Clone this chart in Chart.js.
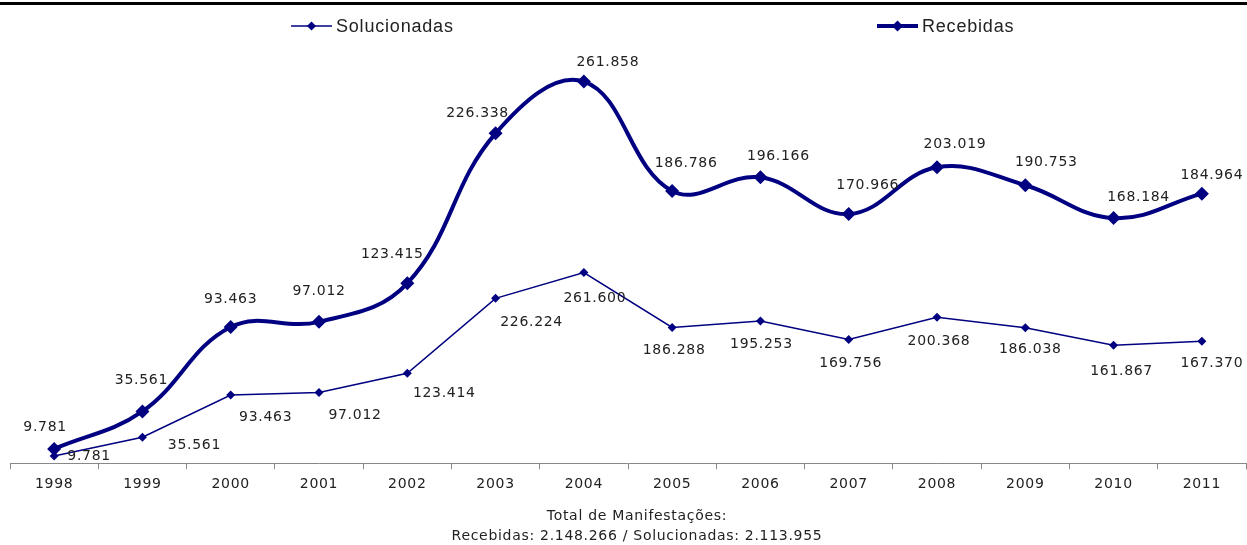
<!DOCTYPE html>
<html>
<head>
<meta charset="utf-8">
<script src="https://cdn.jsdelivr.net/npm/chart.js@4/dist/chart.umd.min.js"></script>
<style>
    html, body { margin: 0; padding: 0; background: #fff; overflow: hidden; }
    #wrap { position: relative; width: 1253px; height: 545px; }
</style>
</head>
<body>
<div id="wrap"><canvas id="chart"></canvas></div>
<script>
const years = ['1998', '1999', '2000', '2001', '2002', '2003', '2004', '2005', '2006', '2007', '2008', '2009', '2010', '2011']
const recebidas = [9781, 35561, 93463, 97012, 123415, 226338, 261858, 186786, 196166, 170966, 203019, 190753, 168184, 184964]
const solucionadas = [9781, 35561, 93463, 97012, 123414, 226224, 261600, 186288, 195253, 169756, 200368, 186038, 161867, 167370]
const footerLines = ['Total de Manifestações:', 'Recebidas: 2.148.266 / Solucionadas: 2.113.955']

// label placement relative to each point (dx, dy)
const recLabelShift = [[-9, -22], [-1, -31], [0, -28], [0, -30], [-15, -29], [-18, -20], [24, -19], [14, -28], [18, -21], [19, -29], [18, -23], [21, -23], [25, -21], [10, -18]]
const solLabelShift = [[35, 0], [52, 8], [35, 22], [36, 23], [37, 20], [36, 24], [11, 26], [2, 23], [1, 23], [2, 24], [2, 24], [5, 22], [8, 26], [10, 22]]

const NAVY = '#000080'
const TEXT = '#222222'
const LABEL_FONT = '14px "DejaVu Sans", Verdana, sans-serif'

const fmt = v => String(v).replace(/\B(?=(\d{3})+(?!\d))/g, '.')

function diamond(ctx, x, y, r) {
    ctx.beginPath()
    ctx.moveTo(x, y - r)
    ctx.lineTo(x + r, y)
    ctx.lineTo(x, y + r)
    ctx.lineTo(x - r, y)
    ctx.closePath()
    ctx.fill()
}

const decorPlugin = {
    id: 'decor',
    beforeDraw(chart) {
        chart.ctx.letterSpacing = '0.7px'
    },
    afterDraw(chart) {
        const { ctx, width } = chart
        ctx.save()

        // top rule
        ctx.fillStyle = '#000'
        ctx.fillRect(0, 2, width, 3)

        // legend
        const items = [
            { text: 'Solucionadas', x: 291, lw: 1.5, r: 4.5 },
            { text: 'Recebidas', x: 877, lw: 4, r: 5.5 },
        ]
        items.forEach(it => {
            ctx.strokeStyle = NAVY
            ctx.fillStyle = NAVY
            ctx.lineWidth = it.lw
            ctx.beginPath()
            ctx.moveTo(it.x, 26)
            ctx.lineTo(it.x + 41, 26)
            ctx.stroke()
            diamond(ctx, it.x + 20.5, 26, it.r)
            ctx.fillStyle = TEXT
            ctx.letterSpacing = '0.8px'
            ctx.font = '18px "Liberation Sans", Arial, sans-serif'
            ctx.textAlign = 'left'
            ctx.textBaseline = 'middle'
            ctx.fillText(it.text, it.x + 45, 27)
        })

        // data labels
        ctx.letterSpacing = '0.7px'
        ctx.font = LABEL_FONT
        ctx.fillStyle = TEXT
        ctx.textAlign = 'center'
        ctx.textBaseline = 'middle'
        const drawLabels = (dsIndex, values, shifts) => {
            chart.getDatasetMeta(dsIndex).data.forEach((pt, i) => {
                ctx.fillText(fmt(values[i]), pt.x + shifts[i][0], pt.y + shifts[i][1])
            })
        }
        drawLabels(0, recebidas, recLabelShift)
        drawLabels(1, solucionadas, solLabelShift)

        // footer
        ctx.fillText(footerLines[0], 637, 516)
        ctx.fillText(footerLines[1], 637, 536)
        ctx.restore()
    }
}

new Chart(document.getElementById('chart'), {
    type: 'line',
    data: {
        labels: years,
        datasets: [
            {
                label: 'Recebidas',
                data: recebidas,
                yAxisID: 'y',
                borderColor: NAVY,
                backgroundColor: NAVY,
                borderWidth: 4,
                tension: 0.4,
                pointStyle: 'rectRot',
                pointRadius: 7,
                pointBorderWidth: 0,
                order: 1,
            },
            {
                label: 'Solucionadas',
                data: solucionadas,
                yAxisID: 'y2',
                borderColor: NAVY,
                backgroundColor: NAVY,
                borderWidth: 1.5,
                tension: 0,
                pointStyle: 'rectRot',
                pointRadius: 4.5,
                pointBorderWidth: 0,
                order: 2,
            },
        ],
    },
    options: {
        responsive: true,
        maintainAspectRatio: false,
        animation: false,
        layout: { padding: { left: 10, right: 0, top: 26, bottom: 45 } },
        plugins: {
            legend: { display: false },
            tooltip: { enabled: false },
        },
        scales: {
            x: {
                offset: true,
                grid: { offset: true, drawOnChartArea: false, color: '#888', tickLength: 6 },
                border: { color: '#888', width: 1 },
                ticks: { color: TEXT, padding: 7, font: { family: '"DejaVu Sans", Verdana, sans-serif', size: 14 } },
            },
            y: { display: false, min: 0, max: 300000 },
            y2: { display: false, min: 0, max: 600000 },
        },
    },
    plugins: [decorPlugin],
})
</script>
</body>
</html>
